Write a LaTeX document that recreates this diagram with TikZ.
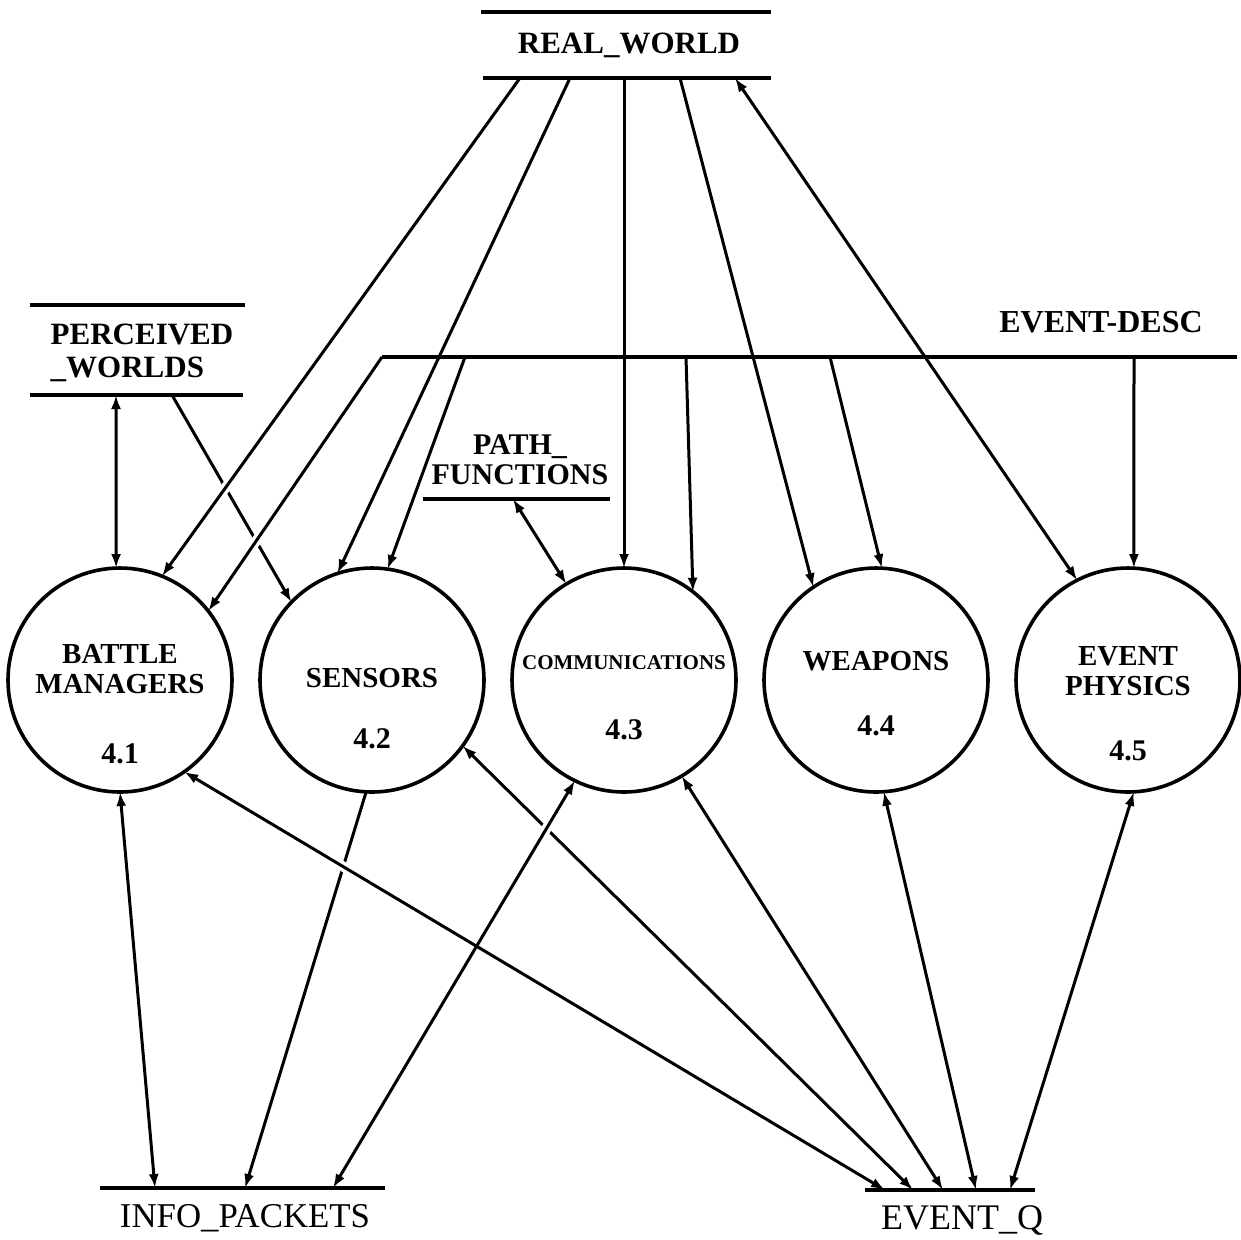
\documentclass[tikz,border=0pt]{standalone}
\usepackage{fontspec}
\setmainfont{Liberation Serif}
\usetikzlibrary{arrows.meta,positioning}
\begin{document}
\begin{tikzpicture}[x=0.5pt,y=-0.5pt,line width=1.5pt,>={Latex[length=7pt,width=5pt]}]
\tikzset{proc/.style={draw,circle,line width=1.8pt,minimum size=112pt,inner sep=0pt,outer sep=0pt},
  pname/.style={align=center,inner sep=0pt,font=\bfseries\fontsize{14.5}{15}\selectfont},
  pnum/.style={inner sep=0pt,font=\bfseries\fontsize{15}{15}\selectfont},
  slabel/.style={align=center,inner sep=0pt,font=\bfseries\fontsize{15.5}{16.5}\selectfont},
  bar/.style={line width=2pt},
  hop/.style 2 args={preaction={draw=white,line width=5pt,arrows=-,shorten <=#1,shorten >=#2}}}
\useasboundingbox (0,0) rectangle (1241,1239);
\node[proc] (bm) at (120,680) {};
\node[proc,right=14pt of bm] (se) {};
\node[proc,right=14pt of se] (co) {};
\node[proc,right=14pt of co] (we) {};
\node[proc,right=14pt of we] (ep) {};
\node[pname,yshift=5.5pt] (bm-t) at (bm.center) {BATTLE\\MANAGERS};
\node[pnum,yshift=-37pt] (bm-n) at (bm.center) {4.1};
\node[pname,yshift=1pt] (se-t) at (se.center) {SENSORS};
\node[pnum,yshift=-29.5pt] (se-n) at (se.center) {4.2};
\node[pname,yshift=8.5pt,font=\bfseries\fontsize{10.5}{11}\selectfont] (co-t) at (co.center) {COMMUNICATIONS};
\node[pnum,yshift=-25pt] (co-n) at (co.center) {4.3};
\node[pname,yshift=9.5pt] (we-t) at (we.center) {WEAPONS};
\node[pnum,yshift=-23pt] (we-n) at (we.center) {4.4};
\node[pname,yshift=4.5pt] (ep-t) at (ep.center) {EVENT\\PHYSICS};
\node[pnum,yshift=-35.5pt] (ep-n) at (ep.center) {4.5};
\node[slabel] (rw) at (629,45) {REAL\_WORLD};
\draw[bar] (481,12) -- (771,12) (483,78) -- (771,78);
\node[slabel,align=left] (pw) at (142,353) {PERCEIVED\\\_WORLDS};
\draw[bar] (30,305) -- (245,305) (30,395) -- (243,395);
\node[slabel,font=\bfseries\fontsize{15}{15}\selectfont] (pf) at (520,460) {PATH\_\\FUNCTIONS};
\draw[bar] (423,499) -- (610,499);
\node[slabel,font=\bfseries\fontsize{16}{16}\selectfont] (ed) at (1101,322) {EVENT-DESC};
\node[slabel,font=\fontsize{17.4}{19}\selectfont] (ip) at (245,1218) {INFO\_PACKETS};
\draw[bar] (100,1188) -- (385,1188);
\node[slabel,font=\fontsize{18}{19}\selectfont] (eq) at (962,1220) {EVENT\_Q};
\draw[bar] (865,1190) -- (1035,1190);
\coordinate (rw1) at (520,78);
\coordinate (rw2) at (570,78);
\coordinate (rw3) at (624,78);
\coordinate (rw4) at (680,78);
\coordinate (rw5) at (735,78);
\coordinate (ed0) at (382,357);
\coordinate (ed2) at (465,357);
\coordinate (ed3) at (686,357);
\coordinate (ed4) at (830,357);
\coordinate (ed5) at (1134,357);
\coordinate (pw1) at (116,395);
\coordinate (pw2) at (172,395);
\coordinate (pf1) at (513,499);
\coordinate (ip1) at (155,1188);
\coordinate (ip2) at (245,1188);
\coordinate (ip3) at (333,1188);
\coordinate (eq1) at (885,1190);
\coordinate (eq2) at (913,1190);
\coordinate (eq3) at (943,1190);
\coordinate (eq4) at (976,1190);
\coordinate (eq5) at (1010,1190);
\draw[line width=1.6pt] (ed0) -- (1237,357);
\draw[->] (pw2) -- (se.136);
\draw[->] (se.267) -- (ip2);
\draw[<->] (se.324) -- (eq2);
\draw[->,hop={10pt}{10pt}] (rw1) -- (bm.68);
\draw[->,hop={10pt}{10pt}] (ed0) -- (bm.38);
\draw[<->,hop={10pt}{10pt}] (bm.305) -- (eq1);
\draw[<->,hop={10pt}{190pt}] (co.244) -- (ip3);
\draw[<->] (pw1) -- (bm.92);
\draw[->] (rw2) -- (se.108);
\draw[->] (ed2) -- (se.82);
\draw[->] (rw3) -- (co.north);
\draw[<->] (pf1) -- (co.121);
\draw[->] (ed3) -- (co.52);
\draw[->] (rw4) -- (we.124);
\draw[->] (ed4) -- (we.87);
\draw[<->] (rw5) -- (ep.117);
\draw[->] (ed5) -- (ep.87);
\draw[<->] (bm.south) -- (ip1);
\draw[<->] (co.301) -- (eq3);
\draw[<->] (we.274) -- (eq4);
\draw[<->] (ep.273) -- (eq5);
\end{tikzpicture}
\end{document}
